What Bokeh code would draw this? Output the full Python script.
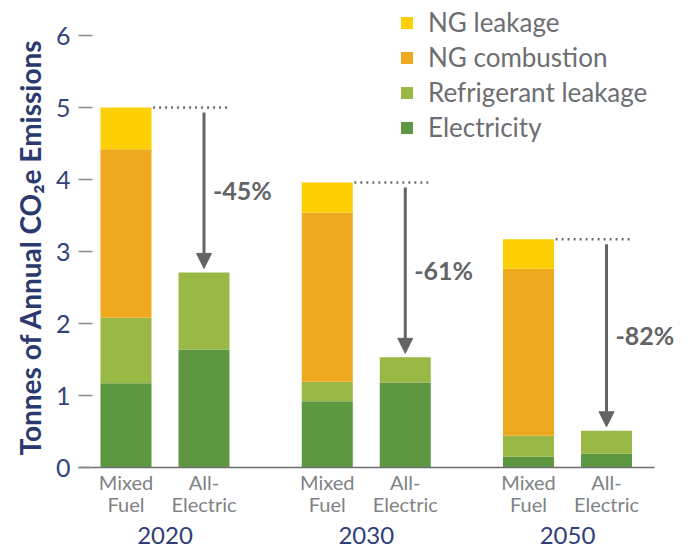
from bokeh.plotting import figure
from bokeh.models import (Range1d, Legend, LegendItem, FixedTicker, ColumnDataSource,
                          LinearAxis, Arrow, NormalHead, Title)
from bokeh.core.properties import value
from bokeh.embed import file_html
from bokeh.resources import INLINE

# ---- data ----
years = ["2020", "2030", "2050"]
building_types = ["Mixed\nFuel", "All-\nElectric"]
series = ["Electricity", "Refrigerant leakage", "NG combustion", "NG leakage"]
electricity = [1.17, 1.64, 0.92, 1.18, 0.15, 0.19]
refrigerant_leakage = [0.91, 1.07, 0.27, 0.35, 0.29, 0.32]
ng_combustion = [2.34, 0.0, 2.35, 0.0, 2.32, 0.0]
ng_leakage = [0.58, 0.0, 0.42, 0.0, 0.41, 0.0]
reduction_labels = ["-45%", "-61%", "-82%"]
y_ticks = [0, 1, 2, 3, 4, 5, 6]
y_title = "Tonnes of Annual CO₂e Emissions"

colors = ["#5d9741", "#99b845", "#efa921", "#fdd005"]
FONT = "Lato"
NAVY = "#2b3a6e"
GRAY = "#6d6e71"
DARKGRAY = "#636466"

# ---- layout (positions computed from category indices) ----
GROUP_STEP = 2.58
BAR_W = 0.654
AXIS_PAD = 0.282
xs = [round(g * GROUP_STEP + m, 4) for g in range(len(years)) for m in range(len(building_types))]
group_centers = [round(g * GROUP_STEP + 0.5, 4) for g in range(len(years))]
sub_labels = {x: building_types[i % 2] for i, x in enumerate(xs)}
year_labels = {x: y for x, y in zip(group_centers, years)}

x_start = xs[0] - BAR_W / 2 - AXIS_PAD
axis_end = xs[-1] + BAR_W / 2 + AXIS_PAD
x_end = x_start + 7.82

src = ColumnDataSource(dict(x=xs,
                            **{"Electricity": electricity,
                               "Refrigerant leakage": refrigerant_leakage,
                               "NG combustion": ng_combustion,
                               "NG leakage": ng_leakage}))

W, H = 688, 550
MB_L, MB_R, MB_T, MB_B = 78, 0, 0, 83
PX_PER_UNIT = 72.0
y_end = (H - MB_T - MB_B) / PX_PER_UNIT

p = figure(width=W, height=H, output_backend="svg", toolbar_location=None,
           x_range=Range1d(x_start, x_end), y_range=Range1d(0, y_end),
           min_border_left=MB_L, min_border_right=MB_R,
           min_border_top=MB_T, min_border_bottom=MB_B)
p.outline_line_color = None
p.xgrid.visible = False
p.ygrid.visible = False
p.background_fill_color = "white"
p.border_fill_color = "white"

renderers = p.vbar_stack(series, x="x", width=BAR_W, source=src, color=colors,
                         line_color=None)

# legend
items = [LegendItem(label=s, renderers=[r]) for s, r in zip(series, renderers)][::-1]
legend = Legend(items=items, location=(321, 324), orientation="vertical")
legend.border_line_color = None
legend.background_fill_alpha = 0
legend.padding = 0
legend.margin = 0
legend.spacing = 3
legend.glyph_width = 15
legend.glyph_height = 15
legend.label_height = 30
legend.label_standoff = 14
legend.label_text_font = FONT
legend.label_text_font_size = "26px"
legend.label_text_color = GRAY
p.add_layout(legend)

# y axis
yax = p.yaxis[0]
yax.ticker = FixedTicker(ticks=y_ticks)
yax.axis_line_color = None
yax.major_tick_in = 14
yax.major_tick_out = 0
yax.major_tick_line_color = "#8a8c8e"
yax.major_tick_line_width = 1.5
yax.minor_tick_line_color = None
yax.major_label_text_font = FONT
yax.major_label_text_font_size = "25px"
yax.major_label_text_color = "#34447a"
yax.major_label_standoff = 8

# y-axis title (as a left title so it can sit over the 0-6 span)
ytitle = Title(text=y_title, align="left", offset=12, standoff=12,
               text_font=FONT, text_font_size="28px", text_font_style="bold",
               text_color=NAVY)
p.add_layout(ytitle, "left")

# x axis: building types
xax = p.xaxis[0]
xax.bounds = (x_start, axis_end)
xax.ticker = FixedTicker(ticks=xs)
xax.major_label_overrides = sub_labels
xax.axis_line_color = GRAY
xax.axis_line_width = 1.5
xax.major_tick_line_color = None
xax.major_tick_in = 0
xax.major_tick_out = 0
xax.minor_tick_line_color = None
xax.minor_tick_out = 0
xax.major_label_text_font = FONT
xax.major_label_text_font_size = "20px"
xax.major_label_text_color = "#808285"
xax.major_label_text_line_height = 0.95
xax.major_label_standoff = 2

# x axis: years
yr_ax = LinearAxis(ticker=FixedTicker(ticks=group_centers),
                   major_label_overrides=year_labels, bounds=(x_start, axis_end))
yr_ax.axis_line_color = None
yr_ax.major_tick_line_color = None
yr_ax.major_tick_in = 0
yr_ax.major_tick_out = 0
yr_ax.minor_tick_line_color = None
yr_ax.minor_tick_out = 0
yr_ax.major_label_text_font = FONT
yr_ax.major_label_text_font_size = "24px"
yr_ax.major_label_text_color = "#2f3e77"
yr_ax.major_label_standoff = 7
p.add_layout(yr_ax, "below")

# annotations: dotted reference lines, arrows, reduction labels
mixed_x = xs[0::2]
elec_x = xs[1::2]
mixed_tot, elec_tot = [], []
for i in range(len(years)):
    m, e = 2 * i, 2 * i + 1
    mixed_tot.append(electricity[m] + refrigerant_leakage[m] + ng_combustion[m] + ng_leakage[m])
    elec_tot.append(electricity[e] + refrigerant_leakage[e] + ng_combustion[e] + ng_leakage[e])

u = 1.0 / PX_PER_UNIT  # one pixel in y data units
p.segment(x0=[x + BAR_W / 2 + 0.02 for x in mixed_x], y0=mixed_tot,
          x1=[x + BAR_W / 2 for x in elec_x], y1=mixed_tot,
          line_color=GRAY, line_width=2.5, line_dash="2 4")

arr_src = ColumnDataSource(dict(x=elec_x,
                                y0=[t - 5 * u for t in mixed_tot],
                                y1=[t + 4 * u for t in elec_tot]))
p.add_layout(Arrow(x_start="x", y_start="y0", x_end="x", y_end="y1", source=arr_src,
                   line_color=DARKGRAY, line_width=3,
                   end=NormalHead(size=15, fill_color=DARKGRAY, line_color=DARKGRAY,
                                  line_width=1)))

label_y = [(a + b) / 2 for a, b in zip(mixed_tot, elec_tot)]
p.text(x=elec_x, y=label_y, text=reduction_labels, x_offset=9,
       text_font=value(FONT), text_font_style="bold", text_font_size="25px",
       text_color=DARKGRAY, text_align="left", text_baseline="middle")

open("out.html", "w").write(file_html(p, INLINE))
